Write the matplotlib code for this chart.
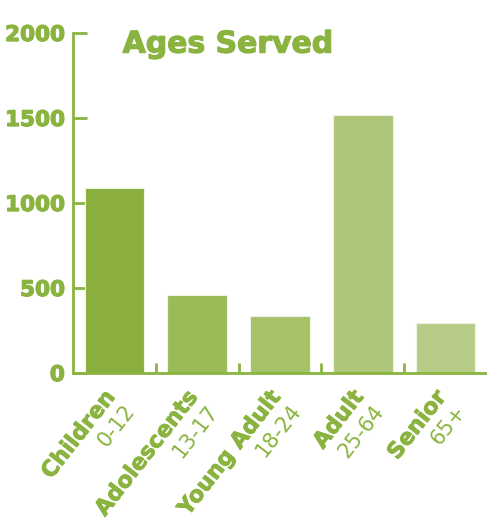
import matplotlib
matplotlib.use("Agg")
import matplotlib.pyplot as plt
import matplotlib.transforms as mtransforms
import matplotlib.patheffects as pe

groups = ["Children", "Adolescents", "Young Adult", "Adult", "Senior"]
ranges = ["0-12", "13-17", "18-24", "25-64", "65+"]
served = [1088, 459, 335, 1518, 294]
bar_colors = ["#8aaf3f", "#9bbb58", "#a5c268", "#aec677", "#b8cc8a"]

green = "#8ab43f"
heavy = [pe.withStroke(linewidth=0.9, foreground=green)]

fig = plt.figure(figsize=(4.87, 5.19), dpi=100)
ax = fig.add_axes([0.150, 0.2813, 0.850, 0.6551])

ax.bar(range(len(served)), served, width=0.72, color=bar_colors,
       edgecolor="#eef4e2", linewidth=0.8, zorder=2)

ax.set_xlim(-0.5, len(served) - 0.5)
ax.set_ylim(0, 2000)
ax.set_yticks([0, 500, 1000, 1500, 2000])
ax.set_yticklabels(["0", "500", "1000", "1500", "2000"],
                   fontsize=15.5, fontweight="bold", color=green)
for lab in ax.get_yticklabels():
    lab.set_path_effects(heavy)

# y ticks point inward, x ticks sit between categories
ax.tick_params(axis="y", direction="in", length=10, width=2, color=green, pad=6)
ax.set_xticks([0.5, 1.5, 2.5, 3.5])
ax.set_xticklabels([])
ax.tick_params(axis="x", direction="in", length=7, width=2, color=green)

for side in ["top", "right"]:
    ax.spines[side].set_visible(False)
for side in ["left", "bottom"]:
    ax.spines[side].set_color(green)
    ax.spines[side].set_linewidth(2)

# two-line rotated category labels: bold name, lighter age range beneath
base = ax.get_xaxis_transform()
for i, (name, rng) in enumerate(zip(groups, ranges)):
    t1 = base + mtransforms.ScaledTranslation(-0.11, -0.14, fig.dpi_scale_trans)
    ax.text(i, 0, name, transform=t1, rotation=52, rotation_mode="anchor",
            ha="right", va="top", fontsize=16, fontweight="bold", color=green,
            path_effects=[pe.withStroke(linewidth=0.6, foreground=green)])
    t2 = base + mtransforms.ScaledTranslation(0.09, -0.28, fig.dpi_scale_trans)
    ax.text(i, 0, rng, transform=t2, rotation=52, rotation_mode="anchor",
            ha="right", va="top", fontsize=15, color=green)

fig.text(0.468, 0.915, "Ages Served", ha="center", va="center",
         fontsize=21.5, fontweight="bold", color=green, path_effects=heavy)

fig.savefig("out.png", dpi=100)
